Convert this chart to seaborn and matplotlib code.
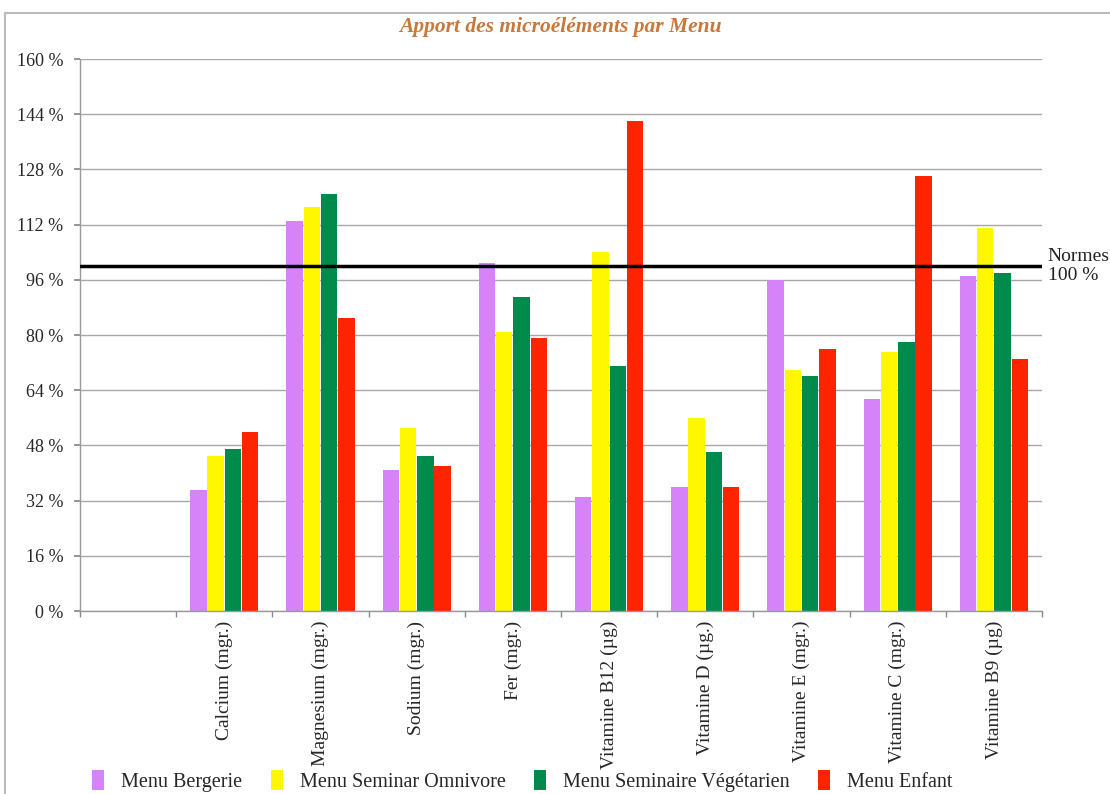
import pandas as pd
import numpy as np
import matplotlib
matplotlib.use("Agg")
import matplotlib.pyplot as plt
import seaborn as sns
from matplotlib.ticker import FuncFormatter, FixedLocator
from matplotlib.lines import Line2D

# categories (first slot is empty in the original chart)
categories = [" ", "Calcium (mgr.)", "Magnesium (mgr.)", "Sodium (mgr.)", "Fer (mgr.)",
              "Vitamine B12 (µg)", "Vitamine D (µg.)", "Vitamine E (mgr.)",
              "Vitamine C (mgr.)", "Vitamine B9 (µg)"]
menus = ["Menu Bergerie", "Menu Seminar Omnivore", "Menu Seminaire Végétarien", "Menu Enfant"]

# values in % (one per filled category)
bergerie = [35, 113, 41, 101, 33, 36, 96, 61.5, 97]
omnivore = [45, 117, 53, 81, 104, 56, 70, 75, 111]
vegetarien = [47, 121, 45, 91, 71, 46, 68, 78, 98]
enfant = [52, 85, 42, 79, 142, 36, 76, 126, 73]

colors = ["#D683FA", "#FFF700", "#008A4C", "#FF2400"]

rows = []
for menu, vals in zip(menus, [bergerie, omnivore, vegetarien, enfant]):
    for cat, v in zip(categories[1:], vals):
        rows.append({"Nutriment": cat, "Menu": menu, "Valeur": v})
df = pd.DataFrame(rows)

sns.set_theme(style="white")
plt.rcParams["font.family"] = ["Liberation Serif", "DejaVu Serif"]

fig = plt.figure(figsize=(11.1, 7.94), dpi=100)
ax = fig.add_axes([80 / 1110, 1 - 611 / 794, 962 / 1110, 552 / 794])

sns.barplot(data=df, x="Nutriment", y="Valeur", hue="Menu", order=categories,
            hue_order=menus, palette=colors, saturation=1, width=0.72, gap=0.05,
            edgecolor="none", linewidth=0, ax=ax, legend=True)

ax.set_ylim(0, 160)
ax.set_xlim(-0.5, len(categories) - 0.5)
ax.set_yticks(np.arange(0, 161, 16))
ax.yaxis.set_major_formatter(FuncFormatter(lambda v, p: f"{int(v)} %"))
ax.yaxis.grid(True, color="#A8A8A8", linewidth=1)
ax.set_axisbelow(True)
ax.axhline(100, color="black", linewidth=2.5, zorder=5)

ax.set_xlabel("")
ax.set_ylabel("")
ax.set_xticks(range(len(categories)))
ax.set_xticklabels(categories, rotation=90, va="top", ha="center", fontsize=14)
ax.tick_params(axis="x", length=0, pad=7)
ax.xaxis.set_minor_locator(FixedLocator(np.arange(-0.5, len(categories), 1)))
ax.tick_params(axis="x", which="minor", length=4, color="#888888", direction="out", bottom=True)
ax.tick_params(axis="y", labelsize=13, length=4, color="#888888", left=True, pad=8)

for side in ["top", "right"]:
    ax.spines[side].set_visible(False)
for side in ["left", "bottom"]:
    ax.spines[side].set_color("#999999")
    ax.spines[side].set_linewidth(1)

ax.text(1.006, 100, "Normes\n100 %", transform=ax.get_yaxis_transform(),
        ha="left", va="center", fontsize=14, color="#222222", clip_on=False,
        linespacing=1.15)

fig.text(560 / 1110, 1 - 27 / 794, "Apport des microéléments par Menu", ha="center", va="center",
         fontsize=15.5, fontstyle="italic", fontweight="bold", color="#C8783A")

# outer frame of the chart (partly cut like the original)
fig.add_artist(Line2D([5 / 1110, 1.0], [1 - 13 / 794, 1 - 13 / 794], transform=fig.transFigure,
                      color="#BBBBBB", linewidth=1.5))
fig.add_artist(Line2D([5 / 1110, 5 / 1110], [0, 1 - 13 / 794], transform=fig.transFigure,
                      color="#BBBBBB", linewidth=1.5))

handles, labels = ax.get_legend_handles_labels()
ax.legend_.remove()
fig.legend(handles, labels, loc="center left", bbox_to_anchor=(78 / 1110, 13 / 794), ncol=4,
           frameon=False, fontsize=14.5, handlelength=0.6, handleheight=1.1,
           columnspacing=1.4, handletextpad=0.85, borderpad=0.2)

fig.savefig("out.png", dpi=100)
